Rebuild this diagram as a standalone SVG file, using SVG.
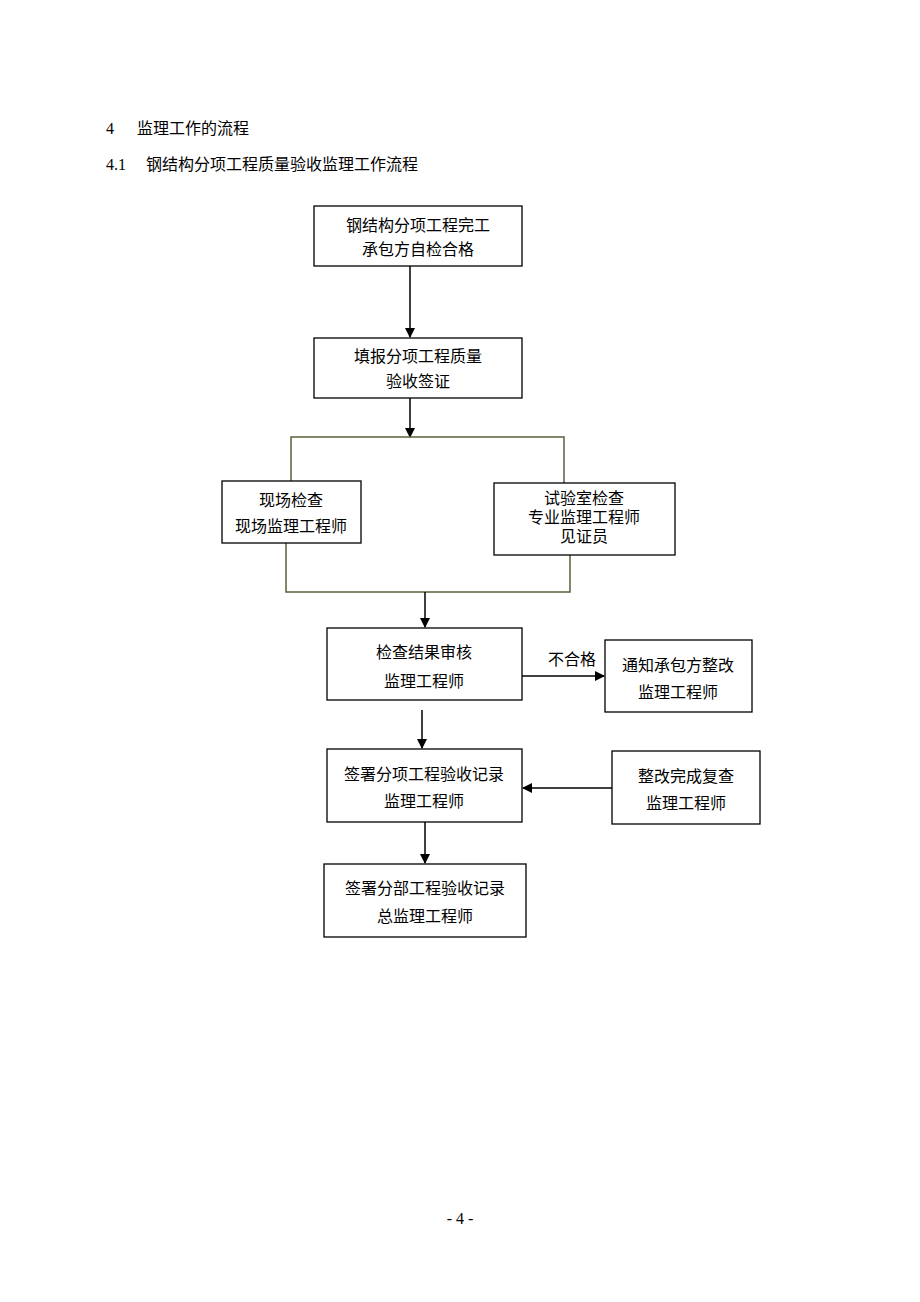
<svg xmlns="http://www.w3.org/2000/svg" width="920" height="1302" viewBox="0 0 920 1302">
<style>
text{font-family:"Liberation Serif","Noto Sans CJK SC",serif;font-size:16px;fill:#000}
.c{text-anchor:middle}
.box{fill:#fff;stroke:#000;stroke-width:1.3}
.ln{fill:none;stroke:#000;stroke-width:1.5}
.ol{fill:none;stroke:#5e5e3a;stroke-width:1.5}
</style>
<defs>
<marker id="ah" markerWidth="10" markerHeight="10" refX="9" refY="5" orient="auto" markerUnits="userSpaceOnUse">
<path d="M0,0 L10,5 L0,10 Z" fill="#000"/>
</marker>
</defs>
<rect width="920" height="1302" fill="#fff"/>
<g id="header">
<text x="106" y="134">4</text>
<text x="137" y="134">监理工作的流程</text>
<text x="106" y="170">4.1</text>
<text x="146" y="170">钢结构分项工程质量验收监理工作流程</text>
</g>
<g id="connectors">
<line class="ln" x1="410" y1="266" x2="410" y2="337" marker-end="url(#ah)"/>
<line class="ln" x1="410" y1="398" x2="410" y2="437" marker-end="url(#ah)"/>
<polyline class="ol" points="291,481 291,437 564,437 564,484"/>
<polyline class="ol" points="286,543 286,592 570,592 570,555"/>
<line class="ln" x1="425" y1="592" x2="425" y2="627" marker-end="url(#ah)"/>
<line class="ln" x1="522" y1="676" x2="604" y2="676" marker-end="url(#ah)"/>
<text x="548" y="665">不合格</text>
<line class="ln" x1="422" y1="710" x2="422" y2="748" marker-end="url(#ah)"/>
<line class="ln" x1="612" y1="788" x2="523" y2="788" marker-end="url(#ah)"/>
<line class="ln" x1="425" y1="822" x2="425" y2="863" marker-end="url(#ah)"/>
</g>
<g id="n1"><rect class="box" x="314" y="206" width="208" height="60"/>
<text class="c" x="418" y="231">钢结构分项工程完工</text><text class="c" x="418" y="255">承包方自检合格</text></g>
<g id="n2"><rect class="box" x="314" y="338" width="208" height="60"/>
<text class="c" x="418" y="362">填报分项工程质量</text><text class="c" x="418" y="387">验收签证</text></g>
<g id="n3"><rect class="box" x="222" y="481" width="139" height="62"/>
<text class="c" x="291" y="506">现场检查</text><text class="c" x="291" y="532">现场监理工程师</text></g>
<g id="n4"><rect class="box" x="494" y="483" width="181" height="72"/>
<text class="c" x="584" y="504">试验室检查</text><text class="c" x="584" y="523">专业监理工程师</text><text class="c" x="584" y="542">见证员</text></g>
<g id="n5"><rect class="box" x="327" y="628" width="195" height="72"/>
<text class="c" x="424" y="658">检查结果审核</text><text class="c" x="424" y="687">监理工程师</text></g>
<g id="n6"><rect class="box" x="605" y="640" width="147" height="72"/>
<text class="c" x="678" y="671">通知承包方整改</text><text class="c" x="678" y="698">监理工程师</text></g>
<g id="n7"><rect class="box" x="327" y="749" width="195" height="73"/>
<text class="c" x="424" y="780">签署分项工程验收记录</text><text class="c" x="424" y="807">监理工程师</text></g>
<g id="n8"><rect class="box" x="612" y="751" width="148" height="73"/>
<text class="c" x="686" y="782">整改完成复查</text><text class="c" x="686" y="809">监理工程师</text></g>
<g id="n9"><rect class="box" x="324" y="864" width="202" height="73"/>
<text class="c" x="425" y="894">签署分部工程验收记录</text><text class="c" x="425" y="922">总监理工程师</text></g>
<g id="footer"><text class="c" x="460" y="1224">- 4 -</text></g>
</svg>
